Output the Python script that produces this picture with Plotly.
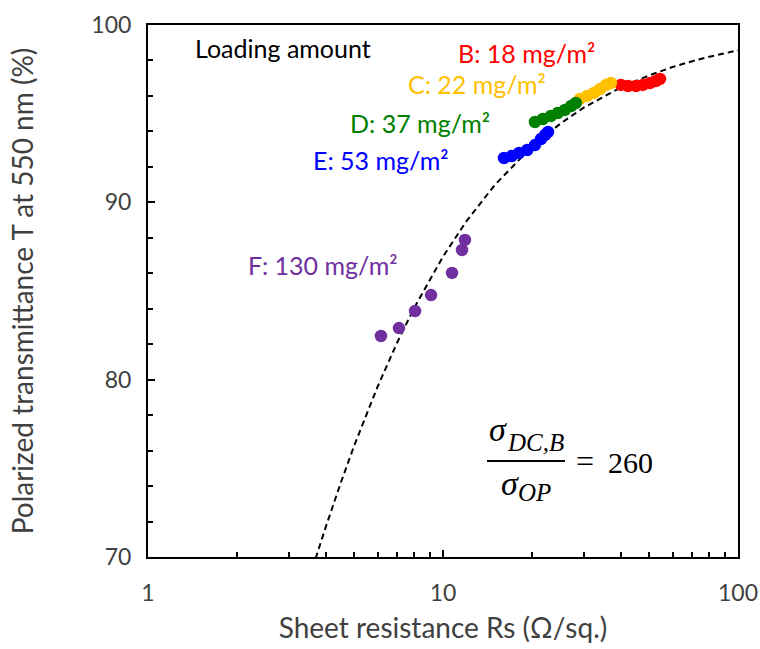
import plotly.graph_objects as go

# ---------------- data ----------------
rs_B = [40.1, 42.4, 45.1, 47.6, 50.3, 52.7, 54.4]
t_B = [96.62, 96.56, 96.56, 96.62, 96.73, 96.84, 96.96]

rs_C = [29.1, 30.8, 32.5, 34.1, 35.7, 37.1]
t_C = [95.83, 96.00, 96.17, 96.39, 96.62, 96.73]

rs_D = [20.5, 21.8, 23.2, 24.5, 25.9, 27.2, 28.2]
t_D = [94.53, 94.70, 94.87, 95.04, 95.21, 95.43, 95.60]

rs_E = [16.1, 17.1, 18.1, 19.3, 20.5, 21.5, 22.2, 22.7]
t_E = [92.50, 92.61, 92.78, 92.95, 93.23, 93.57, 93.80, 93.97]

rs_F = [6.16, 7.09, 8.04, 9.11, 10.73, 11.60, 11.87]
t_F = [82.46, 82.91, 83.87, 84.77, 86.02, 87.31, 87.88]

# dashed fit curve
rs_fit = [3.7, 4.0, 4.5, 5.0, 6.0, 7.0, 8.0, 10.0, 12.0, 15.0, 20.0, 25.0, 30.0,
          40.0, 50.0, 60.0, 70.0, 80.0, 100.0]
t_fit = [69.92, 71.67, 74.17, 76.28, 79.60, 82.11, 84.07, 86.94, 88.93, 90.99,
         93.13, 94.44, 95.34, 96.47, 97.16, 97.63, 97.96, 98.21, 98.57]

series_names = ["B: 18 mg/m²", "C: 22 mg/m²", "D: 37 mg/m²", "E: 53 mg/m²", "F: 130 mg/m²"]
series_colors = ["#FF0000", "#FFC000", "#008000", "#0000FF", "#7030A0"]

x_tickvals = [1, 10, 100]
x_ticktext = ["1", "10", "100"]
x_minor = [2, 3, 4, 5, 6, 7, 8, 9, 20, 30, 40, 50, 60, 70, 80, 90]
y_major = [70, 80, 90, 100]

# ---------------- layout helpers ----------------
W, H = 760, 649
L, R, T, B = 148, 22, 25, 92
PW, PH = W - L - R, H - T - B


def px(x):
    return (x - L) / PW


def py(y):
    return (H - B - y) / PH


FONT = "Lato, 'Open Sans', sans-serif"
SERIF = "'Liberation Serif', 'Times New Roman', serif"
GREY = "#404040"

fig = go.Figure()

fig.add_trace(go.Scatter(x=rs_fit, y=t_fit, mode="lines",
                         line=dict(color="black", width=2, dash="6px,4px"),
                         showlegend=False, hoverinfo="skip"))

all_rs = [rs_B, rs_C, rs_D, rs_E, rs_F]
all_t = [t_B, t_C, t_D, t_E, t_F]
for xs, ys, nm, col in zip(all_rs, all_t, series_names, series_colors):
    fig.add_trace(go.Scatter(x=xs, y=ys, mode="markers", name=nm,
                             marker=dict(color=col, size=12.5, line=dict(width=0)),
                             showlegend=False))

# labels
labels = [
    ("Loading amount", "#000000", 193, 48),
    (series_names[0], series_colors[0], 456, 53),
    (series_names[1], series_colors[1], 406, 84),
    (series_names[2], series_colors[2], 348, 123),
    (series_names[3], series_colors[3], 311, 160),
    (series_names[4], series_colors[4], 246, 265),
]
for txt_, col, x0, y0 in labels:
    fig.add_annotation(text=txt_, xref="paper", yref="paper", x=px(x0), y=py(y0),
                       xanchor="left", yanchor="middle", showarrow=False,
                       font=dict(family=FONT, size=25, color=col))


def txt(s, x0, y0, size, anchor="left"):
    fig.add_annotation(text=s, xref="paper", yref="paper", x=px(x0), y=py(y0),
                       xanchor=anchor, yanchor="middle", showarrow=False,
                       font=dict(family=SERIF, size=size, color="black"))


# formula  sigma_{DC,B} / sigma_{OP} = 260
txt("<i>σ</i>", 487, 429, 34)
txt("<i>DC,B</i>", 505, 442, 25)
txt("<i>σ</i>", 499, 484, 34)
txt("<i>OP</i>", 516, 492, 25)
txt("=", 574, 461, 32)
txt("260", 606, 462, 30)
fig.add_shape(type="line", xref="paper", yref="paper",
              x0=px(487), x1=px(565), y0=py(461), y1=py(461),
              line=dict(color="black", width=2))

fig.update_layout(
    width=W, height=H,
    margin=dict(l=L, r=R, t=T, b=B),
    paper_bgcolor="white", plot_bgcolor="white",
    font=dict(family=FONT, color=GREY),
    xaxis=dict(type="log", range=[0, 2], tickvals=x_tickvals, ticktext=x_ticktext,
               automargin=False,
               ticks="inside", ticklen=7, tickwidth=1.5, tickcolor="black",
               minor=dict(ticks="inside", ticklen=5, tickwidth=1.5, tickcolor="black",
                          tickvals=x_minor),
               showline=True, linecolor="black", linewidth=2, mirror=True,
               showgrid=False, zeroline=False,
               tickfont=dict(family=FONT, size=23, color=GREY),
               ticklabelstandoff=14,
               title=dict(text="Sheet resistance Rs (Ω/sq.)",
                          font=dict(family=FONT, size=28, color=GREY),
                          standoff=14)),
    yaxis=dict(range=[70, 100], tickvals=y_major, automargin=False,
               ticks="inside", ticklen=7, tickwidth=1.5, tickcolor="black",
               minor=dict(ticks="inside", ticklen=5, tickwidth=1.5, tickcolor="black", dtick=2),
               showline=True, linecolor="black", linewidth=2, mirror=True,
               showgrid=False, zeroline=False,
               tickfont=dict(family=FONT, size=23, color=GREY),
               ticklabelstandoff=10,
               title=dict(text="Polarized transmittance T at 550 nm (%)",
                          font=dict(family=FONT, size=28, color=GREY),
                          standoff=50)),
)

fig.write_html("out.html")
